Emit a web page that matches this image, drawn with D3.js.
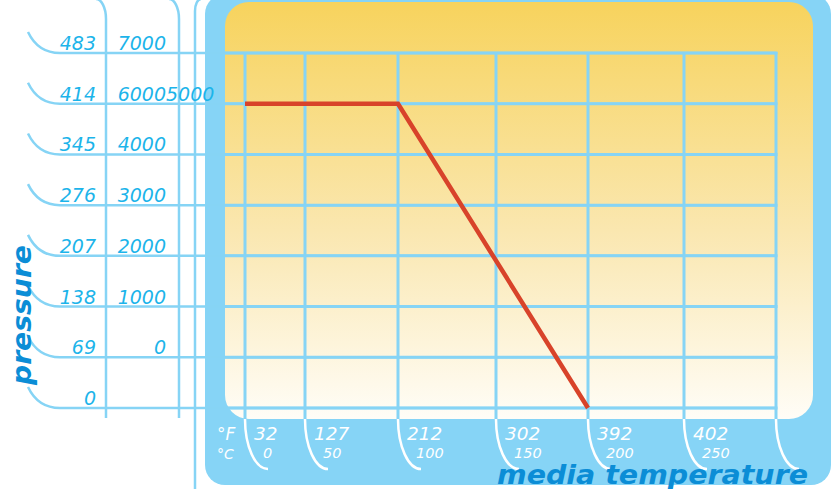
<!DOCTYPE html>
<html>
<head>
<meta charset="utf-8">
<script src="https://cdn.jsdelivr.net/npm/d3@7.9.0/dist/d3.min.js"></script>
<style>
  html, body { margin: 0; padding: 0; background: #fff; overflow: hidden; }
  svg { display: block; }
</style>
</head>
<body>
<svg id="chart"></svg>
<script>
// ── Data ─────────────────────────────────────────────────────────────────────
const pressureRows = [0, 69, 138, 207, 276, 345, 414, 483];      // first column
const psiRows = [69, 138, 207, 276, 345, 414, 483];               // second column rows
const psiLabels = ['0', '1000', '2000', '3000', '4000', '6000', '7000'];
const strayLabel = { row: 414, text: '5000' };                    // overlaps 6000 in the source
const tempC = [0, 50, 100, 150, 200, 250, 300];                   // grid columns
const tempFLabels = ['32', '127', '212', '302', '392', '402'];
const tempCLabels = ['0', '50', '100', '150', '200', '250'];
const curveC = [0, 100, 200];
const curveP = [414, 414, 0];

// ── Layout ───────────────────────────────────────────────────────────────────
const width = 831, height = 489;
const plotLeft = 245, plotTop = 53, plotBottom = 408;
const colWidths = [60, 93, 98, 92, 96, 92];   // first column is narrower
const lineBlue = '#86d4f5';
const panelBlue = '#86d4f6';
const textBlue = '#1cb4ea';
const titleBlue = '#0b8dd6';

const svg = d3.select('#chart').attr('width', width).attr('height', height);

const xScale = d3.scaleLinear()
  .domain(tempC)
  .range(d3.cumsum([plotLeft, ...colWidths]));

const yScale = d3.scaleLinear().domain([0, 483]).range([plotBottom, plotTop]);

// gradient
const grad = svg.append('defs').append('linearGradient')
  .attr('id', 'yellow').attr('x1', 0).attr('y1', 0).attr('x2', 0).attr('y2', 1);
grad.append('stop').attr('offset', '0%').attr('stop-color', '#f7d35d');
grad.append('stop').attr('offset', '55%').attr('stop-color', '#fae7b0');
grad.append('stop').attr('offset', '100%').attr('stop-color', '#fffdf7');

// ── Panels ───────────────────────────────────────────────────────────────────
svg.append('rect')
  .attr('x', 205).attr('y', -6).attr('width', 626).attr('height', 491)
  .attr('rx', 20).attr('fill', panelBlue);

svg.append('rect')
  .attr('x', 225).attr('y', 2).attr('width', 588).attr('height', 417)
  .attr('rx', 24).attr('fill', 'url(#yellow)');

// ── Left frame lines ─────────────────────────────────────────────────────────
const frame = svg.append('g').attr('fill', 'none').attr('stroke', lineBlue).attr('stroke-width', 2.5);

[106, 179].forEach((x) => {
  frame.append('path').attr('d', `M${x - 10},-1 A10 20 0 0 1 ${x},19 L${x},418`);
});
frame.append('path').attr('d', 'M201,-1 A6 12 0 0 0 195,11 L195,489');

// row lines with hooks on the left
frame.selectAll('path.row')
  .data(pressureRows)
  .join('path')
  .attr('class', 'row')
  .attr('d', (d) => {
    const y = yScale(d);
    return `M28,${y - 21} Q38,${y} 60,${y} L${xScale(300)},${y}`;
  });

// ── Vertical grid ───────────────────────────────────────────────────────────
svg.append('g')
  .selectAll('line')
  .data(tempC)
  .join('line')
  .attr('x1', (d) => xScale(d)).attr('x2', (d) => xScale(d))
  .attr('y1', plotTop - 1).attr('y2', 419)
  .attr('stroke', lineBlue).attr('stroke-width', 3);

// horizontal lines inside the plot a bit heavier
svg.append('g')
  .selectAll('line')
  .data(pressureRows)
  .join('line')
  .attr('x1', 225).attr('x2', xScale(300) + 1.5)
  .attr('y1', (d) => yScale(d)).attr('y2', (d) => yScale(d))
  .attr('stroke', lineBlue).attr('stroke-width', 3);

// white hooks under the columns
svg.append('g')
  .attr('fill', 'none').attr('stroke', '#fff').attr('stroke-width', 2.5)
  .selectAll('path')
  .data(tempC)
  .join('path')
  .attr('d', (d) => {
    const x = xScale(d);
    return `M${x},419 A23 50 0 0 0 ${x + 23},469`;
  });

// ── Curve ────────────────────────────────────────────────────────────────────
const line = d3.line()
  .x((d, i) => xScale(curveC[i]))
  .y((d, i) => yScale(curveP[i]));

svg.append('path')
  .attr('d', line(curveC))
  .attr('fill', 'none')
  .attr('stroke', '#d8432a')
  .attr('stroke-width', 4.5)
  .attr('stroke-linejoin', 'miter');

// ── Labels ───────────────────────────────────────────────────────────────────
const font = '"DejaVu Sans", Verdana, sans-serif';

svg.append('g')
  .selectAll('text')
  .data(pressureRows)
  .join('text')
  .attr('x', 96).attr('y', (d) => yScale(d) - 3)
  .attr('text-anchor', 'end')
  .attr('font-family', font).attr('font-style', 'italic').attr('font-size', 19)
  .attr('fill', textBlue)
  .text((d) => d);

svg.append('g')
  .selectAll('text')
  .data(psiRows)
  .join('text')
  .attr('x', 166).attr('y', (d) => yScale(d) - 3)
  .attr('text-anchor', 'end')
  .attr('font-family', font).attr('font-style', 'italic').attr('font-size', 19)
  .attr('fill', textBlue)
  .text((d, i) => psiLabels[i]);

svg.append('text')
  .attr('x', 166).attr('y', yScale(strayLabel.row) - 3)
  .attr('font-family', font).attr('font-style', 'italic').attr('font-size', 19)
  .attr('fill', textBlue)
  .text(strayLabel.text);

// x labels
const xl = svg.append('g').attr('font-family', font).attr('font-style', 'italic').attr('fill', '#fff');
xl.append('text').attr('x', 217).attr('y', 440).attr('font-size', 17).text('°F');
xl.append('text').attr('x', 217).attr('y', 459).attr('font-size', 14).text('°C');

xl.selectAll('text.f')
  .data(tempFLabels)
  .join('text')
  .attr('class', 'f')
  .attr('x', (d, i) => xScale(tempC[i]) + 9)
  .attr('y', 440)
  .attr('font-size', 18.5)
  .text((d) => d);

xl.selectAll('text.c')
  .data(tempCLabels)
  .join('text')
  .attr('class', 'c')
  .attr('x', (d, i) => xScale(tempC[i]) + 18)
  .attr('y', 458)
  .attr('font-size', 14.5)
  .text((d) => d);

// axis titles
svg.append('text')
  .attr('transform', 'translate(31,385) rotate(-90)')
  .attr('font-family', font).attr('font-style', 'italic').attr('font-weight', 'bold')
  .attr('font-size', 27)
  .attr('textLength', 140).attr('lengthAdjust', 'spacingAndGlyphs')
  .attr('fill', titleBlue)
  .text('pressure');

svg.append('text')
  .attr('x', 497).attr('y', 484)
  .attr('font-family', font).attr('font-style', 'italic').attr('font-weight', 'bold')
  .attr('font-size', 27)
  .attr('textLength', 311).attr('lengthAdjust', 'spacingAndGlyphs')
  .attr('fill', titleBlue)
  .text('media temperature');
</script>
</body>
</html>
